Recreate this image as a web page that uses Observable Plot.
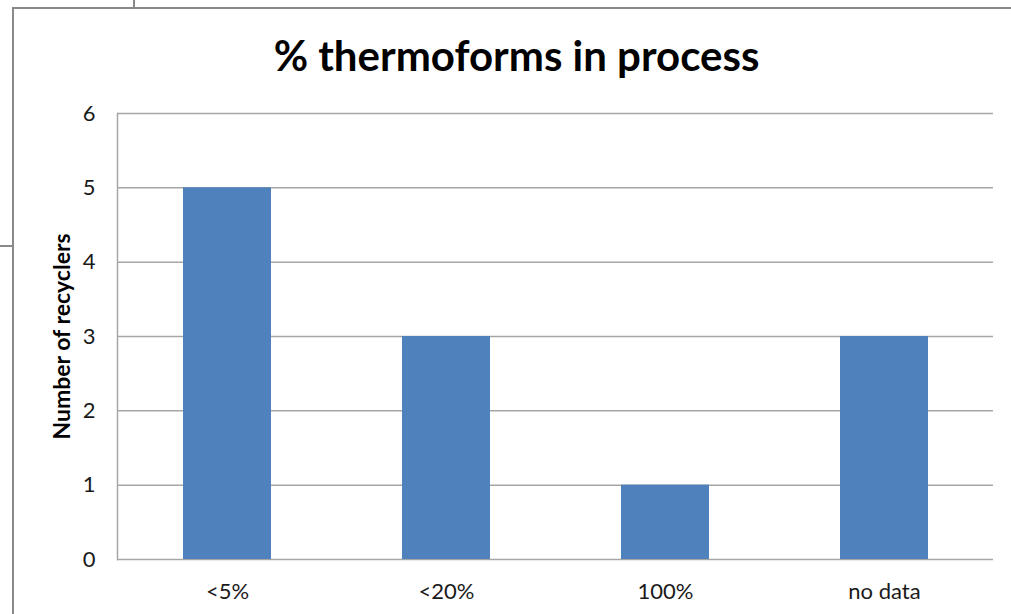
<!DOCTYPE html>
<html>
<head>
<meta charset="utf-8">
<script src="https://cdn.jsdelivr.net/npm/d3@7"></script>
<script src="https://cdn.jsdelivr.net/npm/@observablehq/plot@0.6"></script>
<style>
  html, body { margin: 0; padding: 0; background: #fff; }
  #wrap { position: relative; width: 1011px; height: 614px; overflow: hidden; font-family: Lato, "Open Sans", sans-serif; }
  #frame { position: absolute; left: 12px; top: 7px; width: 1100px; height: 700px; border-left: 2px solid #898989; border-top: 2px solid #898989; }
  .stub { position: absolute; background: #898989; }
  #title { position: absolute; left: 0; top: 34px; width: 1033px; text-align: center; font-weight: 700; font-size: 42px; color: #000; line-height: 1; }
  #chart { position: absolute; left: 0; top: 0; }
</style>
</head>
<body>
<div id="wrap">
  <div class="stub" style="left:133px; top:0; width:2px; height:8px;"></div>
  <div class="stub" style="left:0; top:245px; width:13px; height:2px;"></div>
  <div id="frame"></div>
  <div id="chart"></div>
  <div id="title"></div>
</div>
<script>
const chartTitle = "% thermoforms in process";
const yLabel = "Number of recyclers";
const categories = ["<5%", "<20%", "100%", "no data"];
const counts = [5, 3, 1, 3];
const yTicks = [0, 1, 2, 3, 4, 5, 6];

const data = categories.map((c, i) => ({category: c, value: counts[i]}));

document.getElementById("title").textContent = chartTitle;

const plot = Plot.plot({
  width: 1011,
  height: 614,
  marginLeft: 117,
  marginRight: 18,
  marginTop: 113,
  marginBottom: 55,
  style: {background: "transparent", fontFamily: "Lato, 'Open Sans', sans-serif", fontSize: "22px", color: "#1a1a1a"},
  x: {domain: categories, paddingInner: 0.6, paddingOuter: 0.3, label: null},
  y: {domain: [0, 6], ticks: yTicks, label: null, tickFormat: "d"},
  marks: [
    Plot.ruleY(yTicks, {stroke: "#a6a6a6", strokeWidth: 1.5}),
    Plot.barY(data, {x: "category", y: "value", fill: "#4f81bd"}),
    Plot.axisY({ticks: yTicks, tickFormat: "d", tickSize: 0, tickPadding: 22, fontSize: 22, fill: "#1a1a1a"}),
    Plot.axisX({tickSize: 0, tickPadding: 24, fontSize: 22, fill: "#1a1a1a"}),
    Plot.frame({anchor: "left", stroke: "#a6a6a6", strokeWidth: 1.5}),
    Plot.text([yLabel], {frameAnchor: "left", textAnchor: "middle", rotate: -90, dx: -55, fontWeight: "bold", fontSize: 23, fill: "#000"})
  ]
});
document.getElementById("chart").appendChild(plot);
</script>
</body>
</html>
